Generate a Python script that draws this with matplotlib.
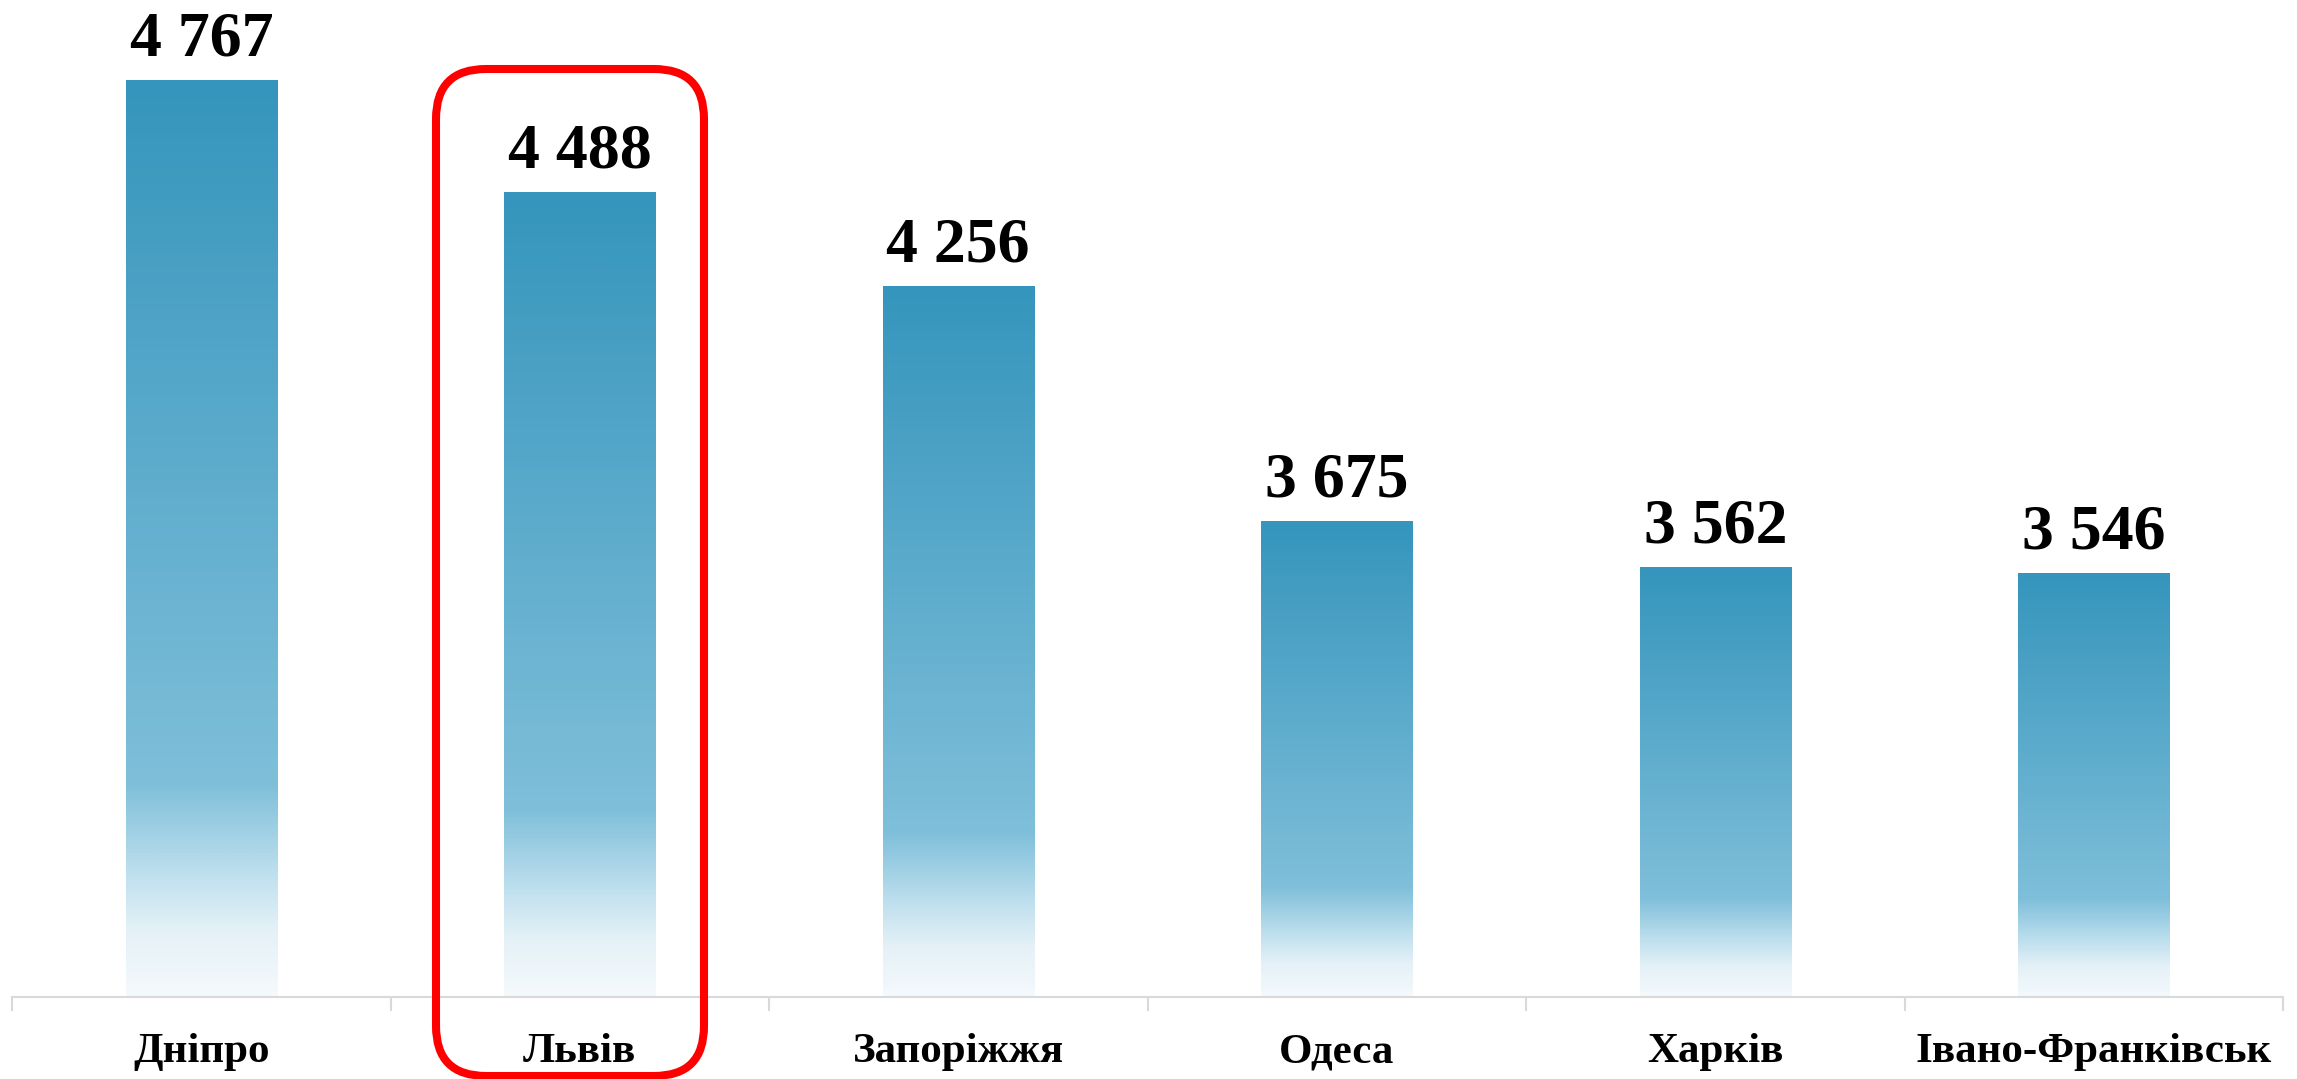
import numpy as np
import matplotlib
matplotlib.use("Agg")
import matplotlib.pyplot as plt
from matplotlib.colors import LinearSegmentedColormap
from matplotlib.patches import FancyBboxPatch

# Data
cities = ["Дніпро", "Львів", "Запоріжжя", "Одеса", "Харків", "Івано-Франківськ"]
values = [4767, 4488, 4256, 3675, 3562, 3546]
value_labels = ["4 767", "4 488", "4 256", "3 675", "3 562", "3 546"]

plt.rcParams["font.family"] = ["Liberation Serif", "DejaVu Serif"]

fig = plt.figure(figsize=(22.97, 10.79), dpi=100)
ax = fig.add_axes([12 / 2297, 1 - 997 / 1079, 2271 / 2297, 997 / 1079])

y_min, y_max = 2500, 4965
x = np.arange(len(cities))

# bar gradient: dark at top -> lighter -> almost white at the bottom
grad = LinearSegmentedColormap.from_list("bar", [
    (0.0, "#f4f9fc"),
    (0.07, "#e4f1f7"),
    (0.13, "#bfe0ee"),
    (0.23, "#7fbfda"),
    (1.0, "#3595bc"),
])
g = np.linspace(0, 1, 256).reshape(-1, 1)

bars = ax.bar(x, values, width=0.4, bottom=0, color="none", edgecolor="none")
for b in bars:
    x0 = b.get_x()
    top = b.get_height()
    ax.imshow(g, cmap=grad, origin="lower", aspect="auto",
              extent=[x0, x0 + b.get_width(), y_min, top], zorder=2,
              interpolation="bicubic")

for xi, v, lab in zip(x, values, value_labels):
    ax.annotate(lab, (xi, v), xytext=(0, 18), textcoords="offset points",
                ha="center", va="baseline", fontsize=46, fontweight="bold")

ax.set_xlim(-0.5, len(cities) - 0.5)
ax.set_ylim(y_min, y_max)

for s in ["top", "left", "right"]:
    ax.spines[s].set_visible(False)
ax.spines["bottom"].set_color("#d9d9d9")
ax.spines["bottom"].set_linewidth(1.5)
ax.set_yticks([])

ax.set_xticks(np.arange(len(cities) + 1) - 0.5)
ax.set_xticklabels([])
ax.tick_params(axis="x", which="major", length=10, width=1.5, color="#d9d9d9")
ax.set_xticks(x, minor=True)
ax.set_xticklabels(cities, minor=True, fontsize=31, fontweight="bold")
ax.tick_params(axis="x", which="minor", length=0, pad=26)

# highlight box around Lviv
box = FancyBboxPatch((4.36, 0.03), 2.68, 10.07,
                     boxstyle="round,pad=0,rounding_size=0.5",
                     transform=fig.dpi_scale_trans, fill=False,
                     edgecolor="#ff0000", linewidth=5.8, clip_on=False)
fig.patches.append(box)

fig.savefig("out.png", dpi=100)
